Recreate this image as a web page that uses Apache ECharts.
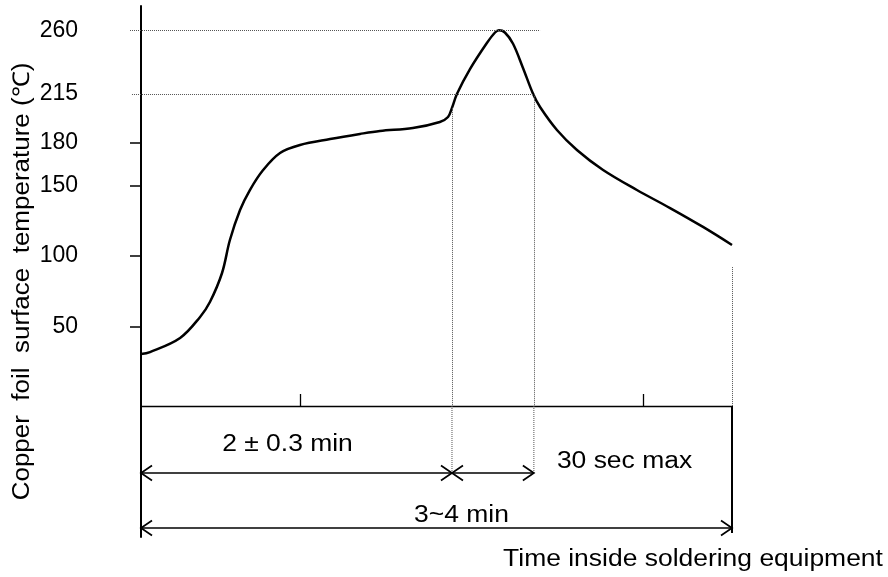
<!DOCTYPE html>
<html><head><meta charset="utf-8">
<script src="https://cdn.jsdelivr.net/npm/echarts@6/dist/echarts.min.js"></script>
<style>html,body{margin:0;padding:0;background:#fff}#c{width:888px;height:577px}</style>
</head><body><div id="c"></div>
<script>
// ---- data (time in seconds, temperature in °C) ----
const timeSec = [0, 3.2, 13.9, 21.0, 24.5, 28.8, 31.6, 35.2, 38.7, 43.4, 49.4, 56.5, 67.2, 77.8, 84.9, 96.6, 106.2, 109.1, 110.5, 112.3, 116.9, 122.9, 125.8, 127.2, 129.3, 132.2, 135.7, 139.3, 141.8, 147.8, 154.9, 164.2, 176.2, 188.0, 199.7, 210];
const tempC   = [30.3, 31.7, 41.7, 56.6, 67.2, 87.8, 111.2, 132.5, 146.7, 160.9, 173.0, 178.7, 182.9, 186.5, 188.6, 190.7, 195.0, 198.5, 205.0, 215.0, 232.5, 251.0, 258.5, 260, 258.5, 250.5, 233.5, 215.0, 205.6, 189.3, 175.1, 160.9, 146.7, 133.9, 120.5, 107.7];
const yTickValues  = [50, 100, 150, 180];
const yLabelValues = [50, 100, 150, 180, 215, 260];
const xTickValues  = [56.5, 178.3];
const refLevels    = [260, 215];
const refLevelEnds = [141.8, 139.6];
const peakWindowStart = 110.5;   // end of preheat (2 ± 0.3 min)
const peakWindowEnd   = 139.6;   // 30 sec max above 215 °C
const totalTime       = 210;     // 3~4 min
const annoTexts = ['2 ± 0.3 min', '30 sec max', '3~4 min'];
const xTitle = 'Time inside soldering equipment';
const yTitle = 'Copper  foil  surface  temperature (℃)';

// ---- layout constants ----
const yMin = -6.6, yMax = 277.3, xMinTop = -3.9;
const FONT = 'Liberation Sans';

const chart = echarts.init(document.getElementById('c'), null, {renderer: 'canvas'});

// lower panel rows (offset below the time axis)
const arrowRowA = 67, arrowRowB = 122;
const arrowSpans = [[0, peakWindowStart, arrowRowA], [peakWindowStart, peakWindowEnd, arrowRowA], [0, totalTime, arrowRowB]];
const dottedGuides = [[peakWindowStart, 0, arrowRowA], [peakWindowEnd, 0, arrowRowA]];
const solidGuides = [[totalTime, 0, 127]];

function vline(dashed) {
  return function (params, api) {
    const a = api.coord([api.value(0), api.value(1)]);
    const b = api.coord([api.value(0), api.value(2)]);
    return {type: 'line', shape: {x1: a[0], y1: a[1], x2: b[0], y2: b[1]},
      style: {stroke: dashed ? '#555' : '#000', lineWidth: dashed ? 1 : 2, lineDash: dashed ? [1, 1] : null, fill: null}};
  };
}

function textEl(txt, x, y, sx, rot) {
  return {type: 'text', x: x, y: y, scaleX: sx, rotation: rot || 0, silent: true,
    style: {text: txt, fontSize: 23, fontFamily: FONT, fill: '#000', align: 'center', verticalAlign: 'middle', textAlign: 'center', textVerticalAlign: 'middle'}};
}

const option = {
  animation: false,
  backgroundColor: '#fff',
  grid: [
    {left: 130, right: 156, top: 6, bottom: 171},
    {left: 141, right: 156, top: 406, bottom: 40}
  ],
  xAxis: [
    {gridIndex: 0, type: 'value', min: xMinTop, max: totalTime, show: false, splitLine: {show: false}},
    {gridIndex: 1, type: 'value', min: 0, max: totalTime, position: 'top',
     axisLine: {show: true, onZero: false, lineStyle: {color: '#000', width: 1.3}},
     axisTick: {show: true, inside: false, length: 12, customValues: xTickValues, lineStyle: {color: '#000', width: 1.3}},
     axisLabel: {show: false}, splitLine: {show: false}}
  ],
  yAxis: [
    {gridIndex: 0, type: 'value', min: yMin, max: yMax, position: 'left',
     axisLine: {show: true, onZero: true, lineStyle: {color: '#000', width: 2}},
     axisTick: {show: true, inside: false, length: 11, customValues: yTickValues, lineStyle: {color: '#000', width: 1.5}},
     axisLabel: {show: true, customValues: yLabelValues, margin: 52, color: '#000', fontSize: 23, fontFamily: FONT},
     splitLine: {show: false}},
    {gridIndex: 0, type: 'value', min: yMin, max: yMax, position: 'left',
     axisLine: {show: false, onZero: true},
     axisTick: {show: true, inside: true, length: 11, customValues: yTickValues, lineStyle: {color: '#000', width: 1.5}},
     axisLabel: {show: false}, splitLine: {show: false}},
    {gridIndex: 1, type: 'value', min: 0, max: 131, inverse: true, position: 'left',
     axisLine: {show: true, onZero: false, lineStyle: {color: '#000', width: 2}},
     axisTick: {show: false}, axisLabel: {show: false}, splitLine: {show: false}}
  ],
  series: [
    {
      type: 'line', xAxisIndex: 0, yAxisIndex: 0, silent: true,
      data: timeSec.map((t, i) => [t, tempC[i]]),
      smooth: 0.35, showSymbol: false, symbol: 'none',
      lineStyle: {color: '#000', width: 2.5},
      markLine: {
        silent: true, symbol: ['none', 'none'], label: {show: false}, emphasis: {disabled: true},
        lineStyle: {type: [1, 1], color: '#555', width: 1},
        data: [
          [{coord: [xMinTop, refLevels[0]]}, {coord: [refLevelEnds[0], refLevels[0]]}],
          [{coord: [-3.2, refLevels[1]]}, {coord: [refLevelEnds[1], refLevels[1]]}],
          [{coord: [peakWindowStart, 205]}, {coord: [peakWindowStart, yMin]}],
          [{coord: [peakWindowEnd, refLevels[1]]}, {coord: [peakWindowEnd, yMin]}],
          [{coord: [totalTime, 92]}, {coord: [totalTime, yMin]}]
        ]
      }
    },
    {
      type: 'custom', xAxisIndex: 1, yAxisIndex: 2, silent: true, clip: false,
      data: dottedGuides, renderItem: vline(true)
    },
    {
      type: 'custom', xAxisIndex: 1, yAxisIndex: 2, silent: true, clip: false,
      data: solidGuides, renderItem: vline(false)
    },
    {
      type: 'custom', xAxisIndex: 1, yAxisIndex: 2, silent: true, clip: false,
      data: arrowSpans,
      renderItem: function (params, api) {
        const p1 = api.coord([api.value(0), api.value(2)]);
        const p2 = api.coord([api.value(1), api.value(2)]);
        const L = 11, H = 7.5;
        const st = {stroke: '#000', lineWidth: 1.7, fill: null};
        return {type: 'group', children: [
          {type: 'line', shape: {x1: p1[0], y1: p1[1], x2: p2[0], y2: p2[1]}, style: st},
          {type: 'polyline', shape: {points: [[p1[0] + L, p1[1] - H], [p1[0], p1[1]], [p1[0] + L, p1[1] + H]]}, style: st},
          {type: 'polyline', shape: {points: [[p2[0] - L, p2[1] - H], [p2[0], p2[1]], [p2[0] - L, p2[1] + H]]}, style: st}
        ]};
      }
    }
  ],
  graphic: [
    textEl(annoTexts[0], 287.5, 445, 1.15),
    textEl(annoTexts[1], 624.5, 462, 1.15),
    textEl(annoTexts[2], 461.5, 516, 1.15),
    textEl(xTitle, 693, 560, 1.15),
    textEl(yTitle, 23, 281.5, 1.13, Math.PI / 2)
  ]
};
chart.setOption(option);
</script>
</body></html>
